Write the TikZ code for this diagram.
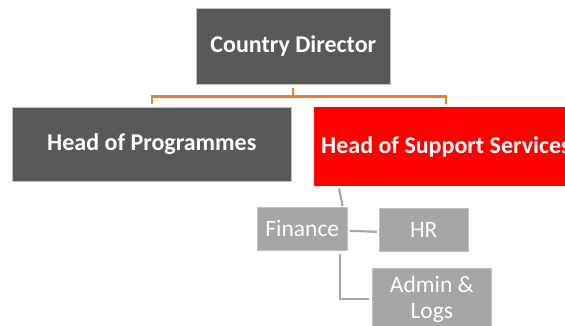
\documentclass[tikz,border=0pt]{standalone}
\usepackage{fontspec}
\setmainfont{Carlito}
\definecolor{boxdark}{HTML}{595959}
\definecolor{boxred}{HTML}{FF0000}
\definecolor{boxlight}{HTML}{A6A6A6}
\definecolor{edgelight}{HTML}{C0C0C0}
\definecolor{linkorange}{HTML}{ED7D31}
\begin{document}
\begin{tikzpicture}[x=1pt,y=-1pt,
  topbox/.style={rectangle, anchor=north west, inner sep=0pt, text=white,
    font=\fontsize{24}{28}\selectfont\bfseries},
  subbox/.style={rectangle, anchor=north west, inner sep=0pt, fill=boxlight,
    draw=edgelight, line width=0.6pt, text=white, align=center,
    font=\fontsize{23.5}{26}\selectfont},
  orgline/.style={draw=linkorange, line width=2.2pt},
  subline/.style={draw=boxlight, line width=2.2pt}]
\useasboundingbox (0,0) rectangle (565,326);
\clip (0,0) rectangle (565,326);

% upper level
\node[topbox, fill=boxdark, draw=edgelight, line width=0.6pt,
      minimum width=194pt, minimum height=76pt] (cd) at (196,8) {Country Director};
\node[topbox, fill=boxdark, draw=edgelight, line width=0.6pt,
      minimum width=279pt, minimum height=74pt] (hop) at (12,107) {Head of Programmes};
\node[topbox, fill=boxred, minimum width=264pt, minimum height=79pt,
      inner xsep=7pt] (hoss) at (314,107)
      {\makebox[250pt][l]{Head of Support Services}};

% support services teams
\node[subbox, minimum width=90pt, minimum height=43pt] (fin) at (257,207) {Finance};
\node[subbox, minimum width=89pt, minimum height=43pt] (hr) at (379,208) {HR};
\node[subbox, minimum width=119pt, minimum height=62pt] (adm) at (372,268) {Admin \&\\Logs};

% orange reporting lines
\draw[orgline] ([yshift=-3.5pt]cd.south) -- ++(0,8.5) coordinate (bus);
\draw[orgline] ([yshift=3pt]hop.north) |- (bus) -| ([yshift=3pt]hoss.north);

% grey links
\draw[subline] ([xshift=25pt,yshift=-2pt]hoss.south west) -- ([xshift=-5pt,yshift=1pt]fin.north east);
\draw[subline] ([xshift=2pt,yshift=-2pt]fin.east) -- ([xshift=-2pt,yshift=-2pt]hr.west);
\draw[subline] ([xshift=-8pt,yshift=-3pt]fin.south east) |- ([xshift=-3pt]adm.west);
\end{tikzpicture}
\end{document}
